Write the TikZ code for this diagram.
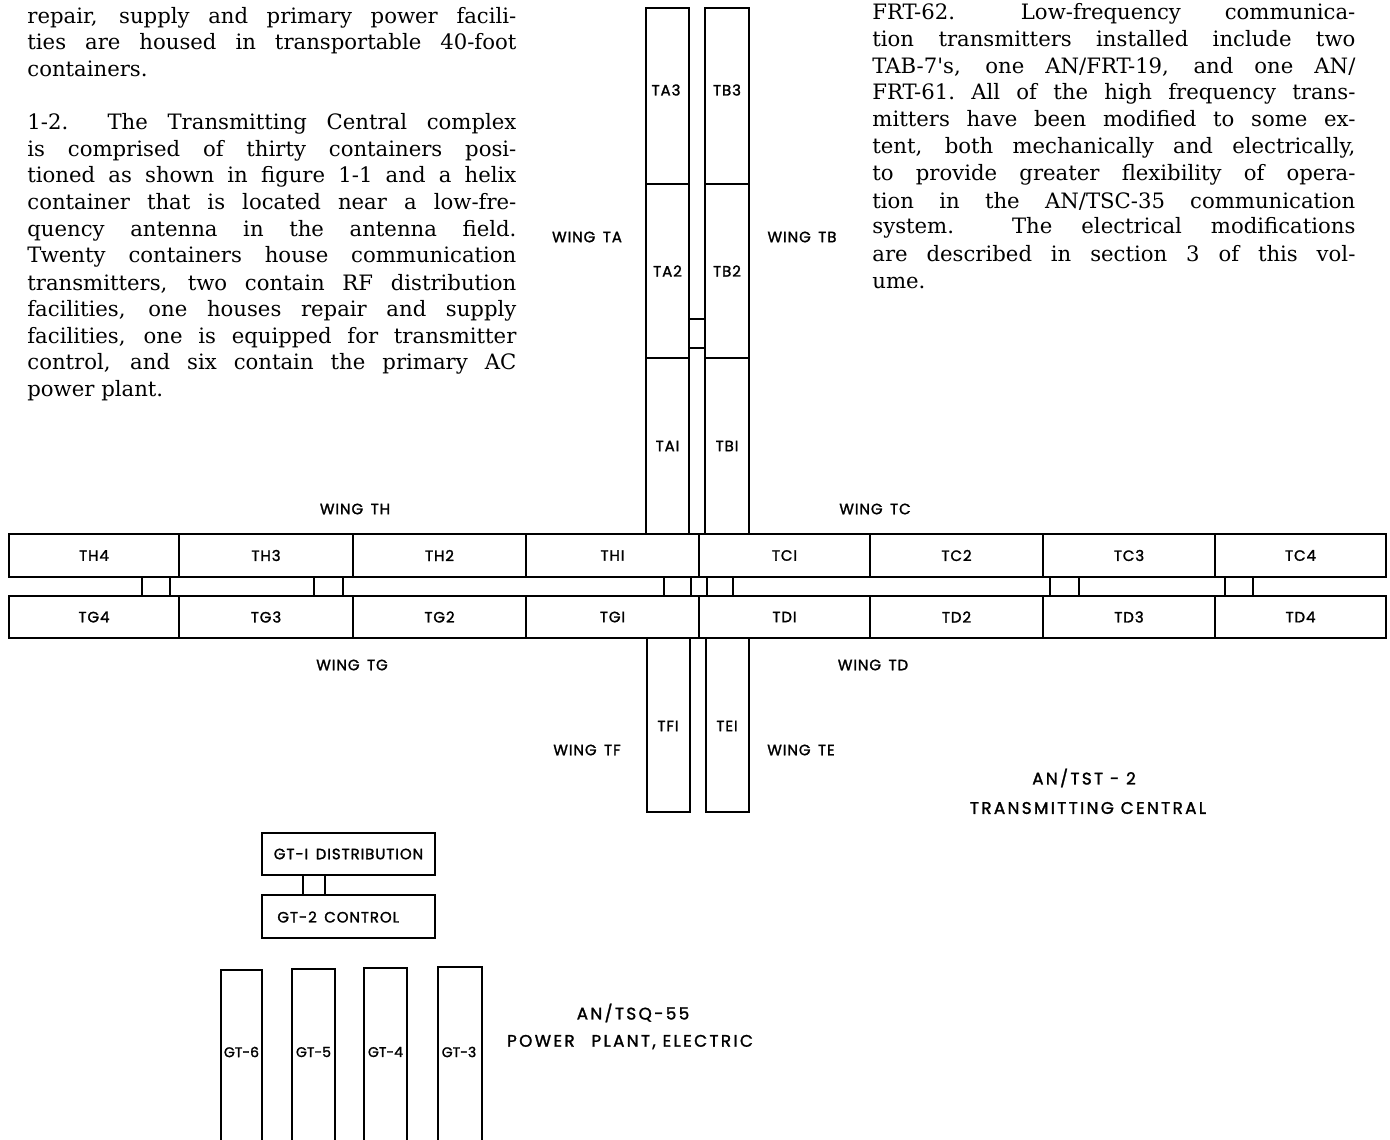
\documentclass[tikz,border=0pt]{standalone}
\usepackage{fontspec}
\newfontfamily\lblfont{Poppins}[LetterSpace=6,FakeBold=1.6]
\newfontfamily\gtfont{Poppins}[LetterSpace=0,FakeBold=1.6]
\newfontfamily\ttlfont{Poppins}[LetterSpace=14,FakeBold=1.6]
\newfontfamily\parafont{DejaVu Serif}
\newcommand\lbl{\lblfont\fontsize{7.5}{8.5}\selectfont}
\newcommand\gtl{\gtfont\fontsize{7}{8}\selectfont}
\newcommand\ttl{\ttlfont\fontsize{8.4}{9}\selectfont}
\newcommand\paraf{\parafont\fontsize{10.6}{13}\selectfont}
\newcommand\cbox[6]{\node[cont, minimum width={((#4)-(#2))*0.5pt}, minimum height={((#5)-(#3))*0.5pt}] (#1) at ({((#2)+(#4))/2},{((#3)+(#5))/2}) {#6};}
\newcommand\lpl[3]{\node[para] (#1) at (27,#2) {\makebox[244.5pt][s]{#3}};}
\newcommand\rpl[3]{\node[para] (#1) at (872,#2) {\makebox[241.5pt][s]{#3}};}
\begin{document}
\begin{tikzpicture}[x=0.5pt,y=-0.5pt,
  cont/.style={draw, line width=0.9pt, inner sep=0pt, outer sep=0pt, font=\lbl},
  lab/.style={inner sep=0pt, font=\lbl},
  gtlab/.style={inner sep=0pt, font=\gtl},
  title/.style={inner sep=0pt, font=\ttl},
  para/.style={inner sep=0pt, anchor=base west, font=\paraf},
  link/.style={line width=0.9pt}]
\useasboundingbox (0,0) rectangle (1390,1139);
\clip (0,0) rectangle (1390,1139);

% paragraphs
\lpl{l1}{24}{repair, supply and primary power facili-}
\lpl{l2}{50}{ties are housed in transportable 40-foot}
\node[para] (l3) at (27,77) {containers.};
\lpl{l4}{130}{1-2.\ \ The Transmitting Central complex}
\lpl{l5}{157}{is comprised of thirty containers posi-}
\lpl{l6}{183}{tioned as shown in figure 1-1 and a helix}
\lpl{l7}{210}{container that is located near a low-fre-}
\lpl{l8}{236}{quency antenna in the antenna field.}
\lpl{l9}{263}{Twenty containers house communication}
\lpl{l10}{290}{transmitters, two contain RF distribution}
\lpl{l11}{316}{facilities, one houses repair and supply}
\lpl{l12}{343}{facilities, one is equipped for transmitter}
\lpl{l13}{369}{control, and six contain the primary AC}
\node[para] (l14) at (27,396) {power plant.};

\rpl{r1}{20}{FRT-62.\ \ \ Low-frequency\ \ communica-}
\rpl{r2}{47}{tion transmitters installed include two}
\rpl{r3}{74}{TAB-7's, one AN/FRT-19, and one AN/}
\rpl{r4}{100}{FRT-61.\ All of the high frequency trans-}
\rpl{r5}{127}{mitters have been modified to some ex-}
\rpl{r6}{154}{tent, both mechanically and electrically,}
\rpl{r7}{181}{to provide greater flexibility of opera-}
\rpl{r8}{208}{tion in the AN/TSC-35 communication}
\rpl{r9}{234}{system.\ \ The electrical modifications}
\rpl{r10}{261}{are described in section 3 of this vol-}
\node[para] (r11) at (872,288) {ume.};

% vertical wings A and B
\cbox{TA3}{646}{8}{689}{184}{}
\cbox{TA2}{646}{184}{689}{358}{TA2}
\cbox{TA1}{646}{358}{689}{534}{TAI}
\cbox{TB3}{705}{8}{749}{184}{}
\cbox{TB2}{705}{184}{749}{358}{TB2}
\cbox{TB1}{705}{358}{749}{534}{TBI}
\node[lab] (ta3t) at (666,90) {TA3};
\node[lab] (tb3t) at (727,90) {TB3};
\draw[link] (TA2.east |- 0,319) -- (TB2.west |- 0,319);
\draw[link] (TA2.east |- 0,348) -- (TB2.west |- 0,348);

% horizontal rows
\cbox{TH4}{9}{534}{179}{577}{TH4}
\cbox{TH3}{179}{534}{353}{577}{TH3}
\cbox{TH2}{353}{534}{526}{577}{TH2}
\cbox{TH1}{526}{534}{699}{577}{THI}
\cbox{TC1}{699}{534}{870}{577}{TCI}
\cbox{TC2}{870}{534}{1043}{577}{TC2}
\cbox{TC3}{1043}{534}{1215}{577}{TC3}
\cbox{TC4}{1215}{534}{1386}{577}{TC4}
\cbox{TG4}{9}{596}{179}{638}{TG4}
\cbox{TG3}{179}{596}{353}{638}{TG3}
\cbox{TG2}{353}{596}{526}{638}{TG2}
\cbox{TG1}{526}{596}{699}{638}{TGI}
\cbox{TD1}{699}{596}{870}{638}{TDI}
\cbox{TD2}{870}{596}{1043}{638}{TD2}
\cbox{TD3}{1043}{596}{1215}{638}{TD3}
\cbox{TD4}{1215}{596}{1386}{638}{TD4}

% passages between rows
\foreach \px/\a/\b in {142/TH4/TG4, 170/TH4/TG4, 314/TH3/TG3, 343/TH3/TG3,
                       664/TH1/TG1, 691/TH1/TG1, 707/TC1/TD1, 733/TC1/TD1,
                       1050/TC3/TD3, 1079/TC3/TD3, 1225/TC4/TD4, 1253/TC4/TD4}
  \draw[link] (\px,0 |- \a.south) -- (\px,0 |- \b.north);

% wings F and E
\cbox{TF1}{647}{638}{690}{812}{}
\cbox{TE1}{706}{638}{749}{812}{}
\node[lab] (tf1t) at (668,726) {TFI};
\node[lab] (te1t) at (727,726) {TEI};

% wing labels
\node[lab] (wta) at (587,237) {WING\enspace TA};
\node[lab] (wtb) at (802,237) {WING\enspace TB};
\node[lab] (wth) at (355,509) {WING\enspace TH};
\node[lab] (wtc) at (875,509) {WING\enspace TC};
\node[lab] (wtg) at (352,665) {WING\enspace TG};
\node[lab] (wtd) at (873,665) {WING\enspace TD};
\node[lab] (wtf) at (587,750) {WING\enspace TF};
\node[lab] (wte) at (801,750) {WING\enspace TE};

\node[title] (tst) at (1084,778) {AN/TST - 2};
\node[title] (tsc) at (1088,808) {TRANSMITTING CENTRAL};

% power plant
\cbox{GT1}{262}{833}{435}{875}{GT-I\enspace DISTRIBUTION}
\cbox{GT2}{262}{895}{435}{938}{}
\node[lab, anchor=west] (gt2t) at (277,917) {GT-2\enspace CONTROL};
\draw[link] (303,0 |- GT1.south) -- (303,0 |- GT2.north);
\draw[link] (325,0 |- GT1.south) -- (325,0 |- GT2.north);

\cbox{GT6}{221}{970}{262}{1160}{}
\cbox{GT5}{292}{969}{335}{1160}{}
\cbox{GT4}{364}{968}{407}{1160}{}
\cbox{GT3}{438}{967}{482}{1160}{}
\node[gtlab] (gt6t) at (241.5,1052) {GT-6};
\node[gtlab] (gt5t) at (313.5,1052) {GT-5};
\node[gtlab] (gt4t) at (385.5,1052) {GT-4};
\node[gtlab] (gt3t) at (459,1052) {GT-3};

\node[title] (tsq) at (633,1013) {AN/TSQ-55};
\node[title] (ppe) at (630,1042) {POWER\quad PLANT, ELECTRIC};
\end{tikzpicture}
\end{document}
